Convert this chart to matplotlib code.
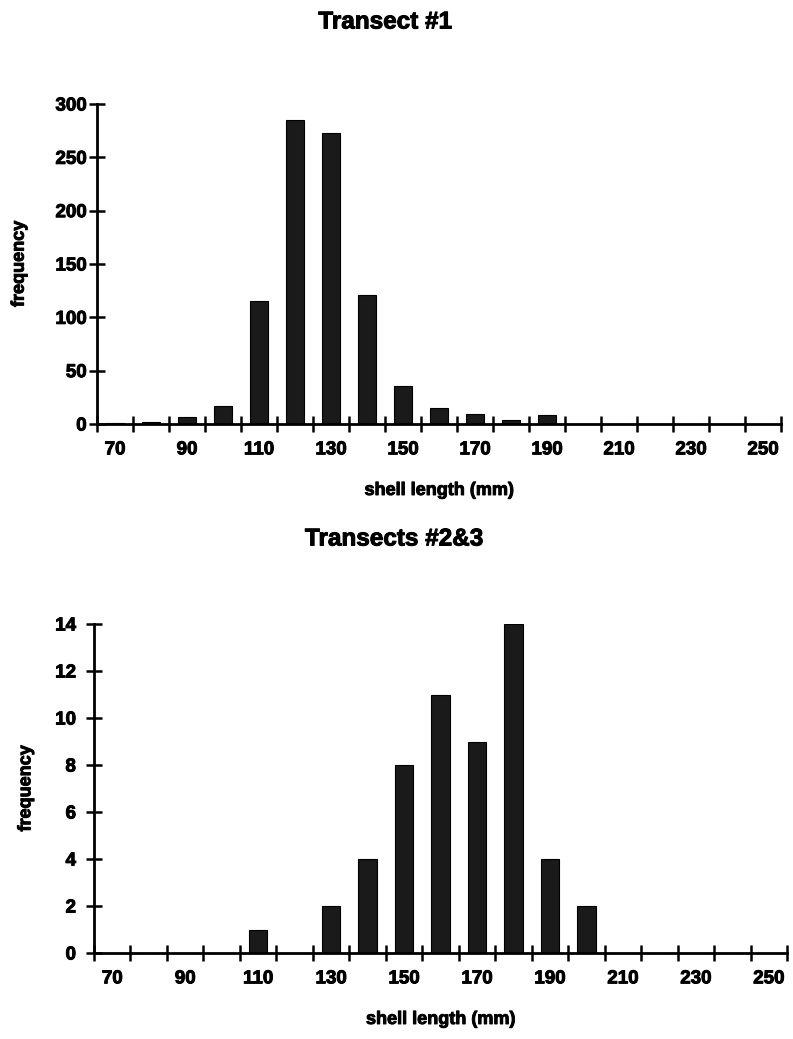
import numpy as np
import matplotlib
matplotlib.use("Agg")
import matplotlib.pyplot as plt
import matplotlib.patheffects as pe

# shell length classes (mm)
lengths = [70, 80, 90, 100, 110, 120, 130, 140, 150, 160,
           170, 180, 190, 200, 210, 220, 230, 240, 250]

# frequencies
freq_t1 = [1, 2, 7, 17, 115, 285, 273, 121, 36, 15,
           9, 4, 8, 0, 0, 0, 0, 0, 0]
freq_t23 = [0, 0, 0, 0, 1, 0, 2, 4, 8, 11,
            9, 14, 4, 2, 0, 0, 0, 0, 0]

titles = ["Transect #1", "Transects #2&3"]
yticks_t1 = [0, 50, 100, 150, 200, 250, 300]
yticks_t23 = [0, 2, 4, 6, 8, 10, 12, 14]

plt.rcParams["font.family"] = ["Liberation Sans", "DejaVu Sans"]
plt.rcParams["font.weight"] = "bold"

W, H = 793, 1039
fig = plt.figure(figsize=(W / 100, H / 100), dpi=100)

# slight stroke to imitate the heavy look of the scanned print
heavy = [pe.withStroke(linewidth=0.7, foreground="black")]


def px_axes(left, right, top, bottom):
    return fig.add_axes([left / W, 1 - bottom / H, (right - left) / W, (bottom - top) / H])


def draw_panel(ax, freqs, yticks, title, title_xy, ypad, ylabelpad):
    x = np.arange(len(lengths))
    ax.bar(x, freqs, width=0.5, color="#1a1a1a", edgecolor="black", linewidth=0.8)
    ax.set_xlim(-0.5, len(lengths) - 0.5)
    ax.set_ylim(0, yticks[-1])
    ax.set_yticks(yticks)
    ax.set_yticklabels([str(t) for t in yticks])
    # category ticks sit on the boundaries, labels on every other class
    ax.set_xticks(np.arange(len(lengths) + 1) - 0.5)
    ax.set_xticklabels([])
    ax.set_xticks(x[::2], minor=True)
    ax.set_xticklabels([str(v) for v in lengths[::2]], minor=True)
    ax.tick_params(axis="x", which="major", direction="inout", length=12, width=1.8)
    ax.tick_params(axis="x", which="minor", length=0, pad=12.5, labelsize=13.5)
    ax.tick_params(axis="y", direction="inout", length=12, width=1.8, pad=ypad, labelsize=13.5)
    for s in ["top", "right"]:
        ax.spines[s].set_visible(False)
    for s in ["left", "bottom"]:
        ax.spines[s].set_linewidth(2)
    ax.set_xlabel("shell length (mm)", fontsize=13, fontweight="bold", labelpad=17)
    ax.set_ylabel("frequency", fontsize=13, fontweight="bold", labelpad=ylabelpad)
    fig.text(title_xy[0] / W, 1 - title_xy[1] / H, title, ha="center", va="center",
             fontsize=17.5, fontweight="bold", path_effects=heavy)
    texts = ax.get_xticklabels(minor=True) + ax.get_yticklabels()
    texts += [ax.xaxis.label, ax.yaxis.label]
    for t in texts:
        t.set_path_effects(heavy)


ax1 = px_axes(97, 781, 104, 424)
draw_panel(ax1, freq_t1, yticks_t1, titles[0], (385, 22), 1.5, 20)

ax2 = px_axes(94, 787, 624, 953)
draw_panel(ax2, freq_t23, yticks_t23, titles[1], (394, 539), 7, 15)

fig.savefig("out.png", dpi=100)
